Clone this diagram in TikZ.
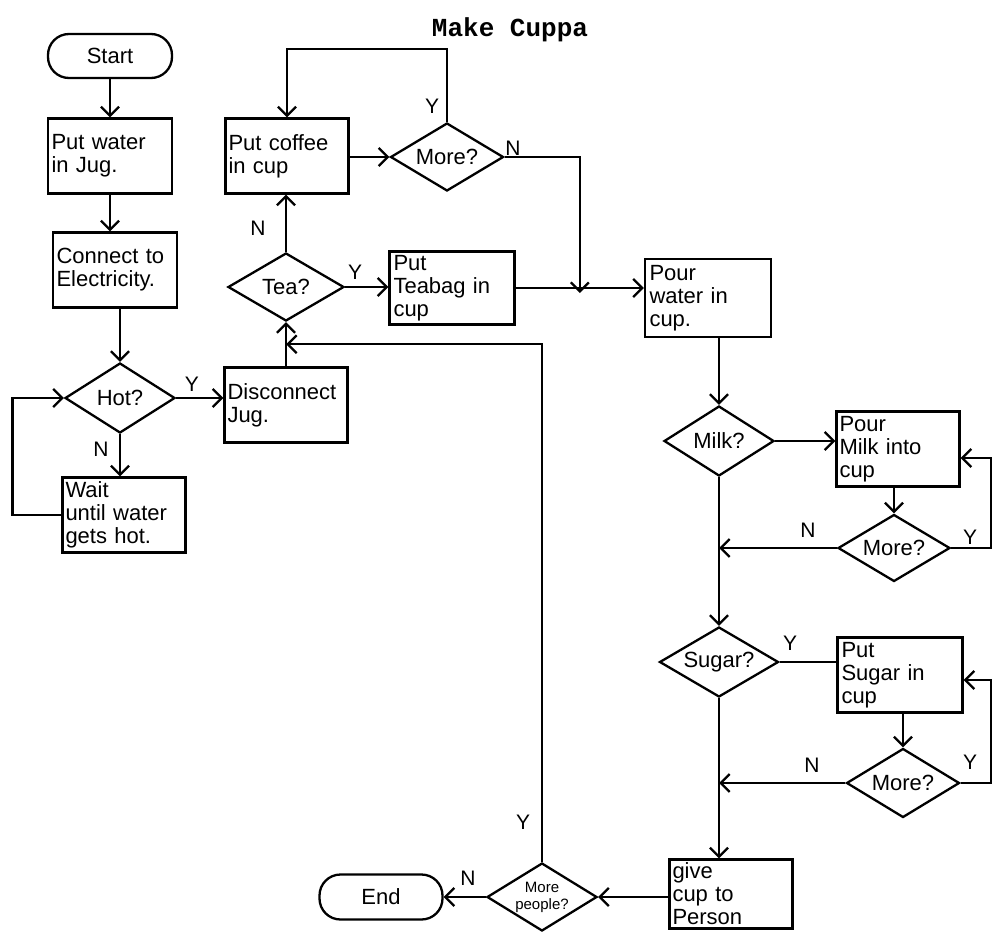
\documentclass[tikz,border=0pt]{standalone}
\usepackage{fontspec}
\setmainfont{Liberation Sans}
\newfontfamily\titlefont{Liberation Mono}
\usetikzlibrary{arrows.meta,shapes.geometric,calc}
\begin{document}
\begin{tikzpicture}[x=1pt,y=-1pt,
  line width=2.3pt,
  arr/.style={-{Straight Barb[length=9pt,width=18pt]}},
  txt/.style={font=\fontsize{22}{23}\selectfont},
  lbl/.style={font=\fontsize{21}{22}\selectfont, inner sep=0pt},
  box/.style={draw, rectangle, txt, align=left, inner sep=3pt,
    minimum width=124pt, text width=117pt},
  term/.style={draw, rectangle, rounded corners=21pt, txt,
    minimum width=124pt, minimum height=44pt},
  dec/.style={draw, diamond, txt, shape aspect=1.6, inner sep=0pt,
    minimum width=112pt, minimum height=69pt}
]
\useasboundingbox (0,0) rectangle (992,931);

\node[font=\titlefont\bfseries\fontsize{26}{28}\selectfont] (title) at (510,30) {Make Cuppa};

% left column
\node[term] (start) at (110,56) {Start};
\node[box, minimum height=75pt] (water) at (110,156) {Put water\\in Jug.};
\node[box, minimum height=75pt] (conn) at (115,270) {Connect to\\Electricity.};
\node[dec, minimum width=110pt, minimum height=70pt] (hot) at (120,398) {Hot?};
\node[box, minimum width=123pt, minimum height=75pt] (wait) at (124,515) {Wait\\until water\\gets hot.};

% middle
\node[box, minimum width=123pt, minimum height=75pt] (disc) at (286,405) {Disconnect\\Jug.};
\node[dec, minimum width=116pt, minimum height=68pt] (tea) at (286,287) {Tea?};
\node[box, minimum width=121pt, minimum height=75pt] (coffee) at (287,156) {Put coffee\\in cup};
\node[dec, minimum width=113pt, minimum height=68pt] (more1) at (447,157) {More?};
\node[box, minimum width=125pt, minimum height=73pt] (teabag) at (452,288) {Put\\Teabag in\\cup};

% right
\node[box, minimum width=126pt, minimum height=78pt] (pour) at (708,298) {Pour\\water in\\cup.};
\node[dec, minimum width=110pt, minimum height=70pt] (milk) at (719,441) {Milk?};
\node[box, minimum width=123pt, minimum height=75pt] (pmilk) at (898,449) {Pour\\Milk into\\cup};
\node[dec, minimum width=112pt, minimum height=67pt] (more2) at (894,548) {More?};
\node[dec, minimum width=119pt, minimum height=70pt] (sugar) at (719,662) {Sugar?};
\node[box, minimum width=125pt, minimum height=75pt] (psugar) at (900,675) {Put\\Sugar in\\cup};
\node[dec, minimum width=113pt, minimum height=69pt] (more3) at (903,783) {More?};
\node[box, minimum width=123pt, minimum height=69pt] (give) at (731,894) {give\\cup to\\Person};
\node[dec, minimum width=110pt, minimum height=68pt, font=\fontsize{15}{17}\selectfont, align=center] (morep) at (542,897) {More\\people?};
\node[term, minimum width=123pt, minimum height=45pt] (end) at (381,897) {End};

% connectors
\draw[arr] (start.south) -- (water.north);
\draw[arr] (water.south) -- (water.south |- conn.north);
\draw[arr] (hot.north |- conn.south) -- (hot.north);
\draw[arr] (hot.east) -- (hot.east -| disc.west);
\draw[arr] (hot.south) -- (hot.south |- wait.north);
\draw[arr] (wait.west) -- ++(-49,0) |- (hot.west);
\draw[arr] (disc.north) -- (tea.south);
\coordinate (jr) at ($(tea.south)!0.5!(disc.north)$);
\draw[arr] (morep.north) |- (jr);
\draw[arr] (tea.north) -- (tea.north |- coffee.south);
\draw[arr] (tea.east) -- (tea.east -| teabag.west);
\draw[arr] (coffee.east |- more1.west) -- (more1.west);
\draw[arr] (more1.north) -- ++(0,-73) -| (coffee.north);
\coordinate (j2) at ($(teabag.east)!0.5!(pour.west)$);
\draw[arr] (more1.east) -| (j2);
\draw[arr] (teabag.east) -- (teabag.east -| pour.west);
\draw[arr] (milk.north |- pour.south) -- (milk.north);
\draw[arr] (milk.east) -- (milk.east -| pmilk.west);
\draw[arr] (pmilk.south -| more2.north) -- (more2.north);
\draw[arr] (more2.east) -- ++(40,0) |- ($(pmilk.east)+(0,9)$);
\draw[arr] (more2.west) -- (more2.west -| milk.south);
\draw[arr] (milk.south) -- (sugar.north);
\draw (sugar.east) -- (sugar.east -| psugar.west);
\draw[arr] (psugar.south -| more3.north) -- (more3.north);
\draw[arr] (more3.east) -- ++(30,0) |- ($(psugar.east)+(0,5)$);
\draw[arr] (more3.west) -- (more3.west -| sugar.south);
\draw[arr] (sugar.south) -- (sugar.south |- give.north);
\draw[arr] (give.west |- morep.east) -- (morep.east);
\draw[arr] (morep.west) -- (end.east);

% labels
\node[lbl] (lhy) at (192,384) {Y};
\node[lbl] (lhn) at (101,449) {N};
\node[lbl] (ltn) at (258,228) {N};
\node[lbl] (lty) at (355,272) {Y};
\node[lbl] (lm1y) at (432,106) {Y};
\node[lbl] (lm1n) at (513,148) {N};
\node[lbl] (lm2n) at (808,530) {N};
\node[lbl] (lm2y) at (970,537) {Y};
\node[lbl] (lsy) at (790,643) {Y};
\node[lbl] (lm3n) at (812,765) {N};
\node[lbl] (lm3y) at (970,762) {Y};
\node[lbl] (lpn) at (468,878) {N};
\node[lbl] (lpy) at (523,822) {Y};
\end{tikzpicture}
\end{document}
